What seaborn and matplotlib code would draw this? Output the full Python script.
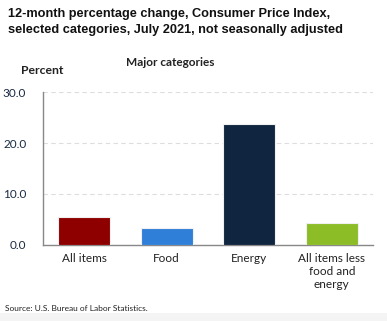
import matplotlib
matplotlib.use("Agg")
import matplotlib.pyplot as plt
import seaborn as sns
import pandas as pd

categories = ["All items", "Food", "Energy", "All items less\nfood and\nenergy"]
values = [5.4, 3.4, 23.8, 4.3]
colors = ["#8E0000", "#2F7FD8", "#10253F", "#8CBD27"]
yticks = [0, 10, 20, 30]

sns.set_theme(style="white")
plt.rcParams["font.family"] = ["Lato", "DejaVu Sans"]

df = pd.DataFrame({"category": categories, "value": values})

fig = plt.figure(figsize=(3.87, 3.21), dpi=100)
ax = fig.add_axes([0.111, 0.237, 0.853, 0.476])

sns.barplot(data=df, x="category", y="value", hue="category", palette=colors,
            saturation=1, legend=False, width=0.63, edgecolor="#f0f0f0",
            linewidth=0.8, ax=ax, zorder=3)

ax.set_ylim(0, 30)
ax.set_xlim(-0.5, 3.5)
ax.set_yticks(yticks)
ax.set_yticklabels([f"{t:.1f}" for t in yticks], fontsize=8.5, color="#1a2a44")
ax.tick_params(axis="x", labelsize=8.5, labelcolor="#222222", length=0, pad=6)
ax.tick_params(axis="y", length=0, pad=12)
ax.set_xlabel("")
ax.set_ylabel("")
ax.yaxis.grid(True, linestyle=(0, (4, 3)), color="#dddddd", linewidth=0.8, zorder=0)
ax.set_axisbelow(True)

for side in ["top", "right"]:
    ax.spines[side].set_visible(False)
for side in ["left", "bottom"]:
    ax.spines[side].set_color("#888888")
    ax.spines[side].set_linewidth(1.0)

fig.text(0.02, 0.975, "12-month percentage change, Consumer Price Index,\n"
         "selected categories, July 2021, not seasonally adjusted",
         fontsize=9.2, fontweight="bold", family="Liberation Sans",
         color="#111111", va="top", ha="left", linespacing=1.45)
fig.text(0.44, 0.805, "Major categories", fontsize=8.5, fontweight="bold",
         color="#222222", ha="center", va="center")
fig.text(0.055, 0.78, "Percent", fontsize=8.8, fontweight="bold",
         color="#222222", ha="left", va="center")
fig.text(0.013, 0.038, "Source: U.S. Bureau of Labor Statistics.", fontsize=6,
         color="#222222", ha="left", va="center")

# thin grey strip along the bottom edge
fig.patches.append(plt.Rectangle((0, 0), 1, 0.025, transform=fig.transFigure,
                                 facecolor="#f4f4f4", edgecolor="none"))

fig.savefig("out.png", dpi=100)
